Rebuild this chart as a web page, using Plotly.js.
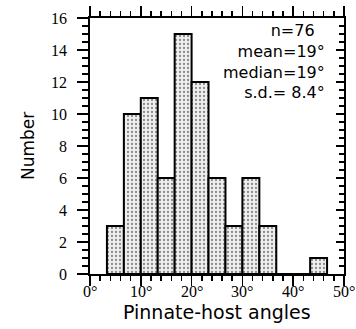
<!DOCTYPE html>
<html>
<head>
<meta charset="utf-8">
<script src="https://cdn.plot.ly/plotly-3.0.1.min.js"></script>
<style>html,body{margin:0;padding:0;background:#fff;}#chart{width:356px;height:329px;}</style>
</head>
<body>
<div id="chart"></div>
<script>
// Bin centres (degrees), bin width 10/3 degrees
const binCenters = [5, 8.333, 11.667, 15, 18.333, 21.667, 25, 28.333, 31.667, 35, 38.333, 41.667, 45];
const counts = [3, 10, 11, 6, 15, 12, 6, 3, 6, 3, 0, 0, 1];
const binWidth = 10 / 3;
const xTickVals = [0, 10, 20, 30, 40, 50];
const xTickText = ['0°', '10°', '20°', '30°', '40°', '50°'];
const yTickVals = [0, 2, 4, 6, 8, 10, 12, 14, 16];
const xTitle = 'Pinnate-host angles';
const yTitle = 'Number';
const statLines = ['n=76&nbsp;&nbsp;', 'mean=19°', 'median=19°', 's.d.= 8.4°'];

const serif = 'Liberation Serif';
const sans = 'DejaVu Sans';

const traces = [{
  type: 'bar',
  x: binCenters,
  y: counts,
  width: binCenters.map(() => binWidth),
  marker: {
    color: '#e4e4e4',
    line: {color: '#000', width: 2},
    pattern: {shape: '.', fgcolor: '#8a8a8a', bgcolor: '#efefef', size: 4, solidity: 0.25}
  },
  hoverinfo: 'skip'
}, {
  type: 'scatter', x: [0], y: [0], yaxis: 'y2', mode: 'markers',
  marker: {opacity: 0}, showlegend: false, hoverinfo: 'skip'
}];

const annotations = [];
// x tick labels (serif) placed through the x scale
xTickVals.forEach((v, i) => annotations.push({
  text: xTickText[i], xref: 'x', yref: 'paper', x: v, y: 0,
  xanchor: 'center', yanchor: 'top', yshift: -8, borderpad: 0, showarrow: false,
  font: {family: serif, size: 16, color: '#000'}
}));
// y tick labels (serif) placed through the y scale
yTickVals.forEach(v => annotations.push({
  text: String(v), xref: 'paper', yref: 'y', x: 0, y: v,
  xanchor: 'right', yanchor: 'middle', xshift: -22, borderpad: 0, showarrow: false,
  font: {family: serif, size: 16, color: '#000'}
}));
// axis titles
annotations.push({
  text: xTitle, xref: 'paper', yref: 'paper', x: 0.5, y: 0,
  xanchor: 'center', yanchor: 'middle', yshift: -38, borderpad: 0, showarrow: false,
  font: {family: sans, size: 19, color: '#000'}
});
annotations.push({
  text: yTitle, xref: 'paper', yref: 'paper', x: 0, y: 0.5, textangle: -90,
  xanchor: 'center', yanchor: 'middle', xshift: -62, showarrow: false,
  font: {family: sans, size: 17, color: '#000'}
});
// statistics block
annotations.push({
  text: statLines.join('<br>'),
  xref: 'paper', yref: 'paper', x: 0.935, y: 0.83,
  xanchor: 'right', yanchor: 'middle', align: 'right', showarrow: false,
  font: {family: sans, size: 16, color: '#000'}
});

const layout = {
  width: 356, height: 329,
  margin: {l: 90, r: 12, t: 18, b: 55},
  paper_bgcolor: '#fff', plot_bgcolor: '#fff',
  showlegend: false,
  bargap: 0,
  font: {family: serif, size: 16, color: '#000'},
  xaxis: {
    range: [0, 50], tickmode: 'array', tickvals: xTickVals, showticklabels: false,
    ticks: 'outside', ticklen: 10, tickwidth: 1.5, tickcolor: '#000',
    minor: {dtick: 2, ticks: 'outside', ticklen: 5, tickwidth: 1.5, tickcolor: '#000', showgrid: false},
    showline: true, linewidth: 2, linecolor: '#000', mirror: 'ticks',
    showgrid: false, zeroline: false
  },
  yaxis: {
    range: [0, 16], tickmode: 'array', tickvals: yTickVals, showticklabels: false,
    ticks: 'outside', ticklen: 11, tickwidth: 1.5, tickcolor: '#000',
    minor: {dtick: 0.5, ticks: 'outside', ticklen: 6, tickwidth: 1.5, tickcolor: '#000', showgrid: false},
    showline: true, linewidth: 2, linecolor: '#000',
    showgrid: false, zeroline: false
  },
  yaxis2: {
    range: [0, 16], overlaying: 'y', side: 'right', anchor: 'x',
    tickmode: 'array', tickvals: yTickVals, showticklabels: false,
    ticks: 'inside', ticklen: 8, tickwidth: 1.5, tickcolor: '#000',
    minor: {dtick: 0.5, ticks: 'inside', ticklen: 5, tickwidth: 1.5, tickcolor: '#000', showgrid: false},
    showline: true, linewidth: 2, linecolor: '#000',
    showgrid: false, zeroline: false
  },
  annotations: annotations
};

Plotly.newPlot('chart', traces, layout, {displayModeBar: false, staticPlot: true});
</script>
</body>
</html>
